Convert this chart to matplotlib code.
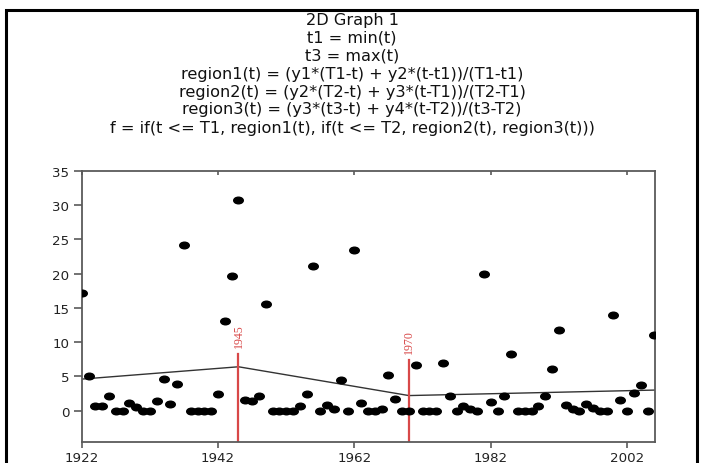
import numpy as np
import matplotlib
matplotlib.use("Agg")
import matplotlib.pyplot as plt
from matplotlib.patches import Rectangle
from matplotlib.path import Path
from matplotlib.markers import MarkerStyle
from matplotlib.transforms import Affine2D
from matplotlib.lines import TICKDOWN

# ---- data ----
years = list(range(1922, 2007))
values = [17.1, 5.0, 0.65, 0.75, 2.1, 0, 0, 1.05, 0.55, 0, 0, 1.45, 4.55, 1.0, 3.9,
          24.2, 0, 0, 0, 0, 2.4, 13.1, 19.7, 30.7, 1.5, 1.4, 2.1, 15.5, 0, 0, 0, 0,
          0.75, 2.45, 21.1, 0, 0.85, 0.3, 4.4, 0, 23.4, 1.15, 0, 0, 0.3, 5.25, 1.65,
          0, 0, 6.7, 0, 0, 0, 6.95, 2.1, 0, 0.65, 0.3, 0, 19.9, 1.3, 0, 2.1, 8.2, 0,
          0, 0, 0.75, 2.1, 6.1, 11.7, 0.85, 0.2, 0, 0.9, 0.4, 0, 0, 14.0, 1.5, 0,
          2.55, 3.7, 0, 11.1]
fit_years = [1922, 1945, 1970, 2006]
fit_values = [4.6, 6.4, 2.2, 3.0]
break_years = [1945, 1970]
break_tops = [8.3, 7.35]
break_labels = ["1945", "1970"]
xticks = [1922, 1942, 1962, 1982, 2002]
yticks = [0, 5, 10, 15, 20, 25, 30, 35]
title_lines = [
    "2D Graph 1",
    "t1 = min(t)",
    "t3 = max(t)",
    "region1(t) = (y1*(T1-t) + y2*(t-t1))/(T1-t1)",
    "region2(t) = (y2*(T2-t) + y3*(t-T1))/(T2-T1)",
    "region3(t) = (y3*(t3-t) + y4*(t-T2))/(t3-T2)",
    "f = if(t <= T1, region1(t), if(t <= T2, region2(t), region3(t)))",
]

W, H = 702, 464
fig = plt.figure(figsize=(W / 100, H / 100), dpi=100)
fig.patch.set_facecolor("white")

left, right, top, bottom = 81.7, 655, 171.7, 442.5
ax = fig.add_axes([left / W, 1 - bottom / H, (right - left) / W, (bottom - top) / H])

# ellipse marker (reference is horizontally stretched)
circ = Path.unit_circle()
ell = Affine2D().scale(1.45, 1.0).transform_path(circ)
marker = MarkerStyle(ell)

ax.plot(years, values, linestyle="none", marker=marker, markersize=6.9,
        color="black", zorder=3)
ax.plot(fit_years, fit_values, color="#333333", linewidth=1.0, zorder=2)

red = "#d84848"
for yr, tp, lab in zip(break_years, break_tops, break_labels):
    ax.plot([yr, yr], [-4.5, tp], color=red, linewidth=1.6, zorder=2)
    ax.text(yr, tp + 1.0, lab, rotation=90, ha="center", va="bottom",
            color=red, fontsize=8.6, family="Liberation Serif")

ax.set_xlim(1922, 2006.1)
ax.set_ylim(-4.5, 35)
ax.set_xticks(xticks)
ax.set_yticks(yticks)
ax.set_xticklabels([str(t) for t in xticks])
ax.set_yticklabels([str(t) for t in yticks])

spine_col = "#5a5a5a"
for s in ax.spines.values():
    s.set_color(spine_col)
    s.set_linewidth(1.3)

ax.tick_params(axis="x", direction="out", length=4, width=1.2, color=spine_col,
               labelsize=9.6, pad=3, top=True, labeltop=False)
ax.tick_params(axis="y", direction="out", length=6, width=1.2, color=spine_col,
               labelsize=9.6, pad=3)
for t in ax.xaxis.get_major_ticks():
    t.tick2line.set_marker(TICKDOWN)
    t.tick2line.set_markersize(3)

for lab in ax.get_xticklabels() + ax.get_yticklabels():
    lab.set_family("DejaVu Sans")
    lab.set_color("#222222")

# title lines
ys = [20, 38, 56, 74, 92, 110, 128]
for line, yp in zip(title_lines, ys):
    fig.text(352 / W, 1 - yp / H, line, ha="center", va="center",
             fontsize=11.6, family="DejaVu Sans", color="#111111")

# outer frame
fig.patches.append(Rectangle((6 / W, -0.1), (697 - 6) / W, (1 - 11 / H) + 0.1,
                             transform=fig.transFigure, fill=False,
                             edgecolor="black", linewidth=2.2, clip_on=False))

fig.savefig("out.png", dpi=100)
